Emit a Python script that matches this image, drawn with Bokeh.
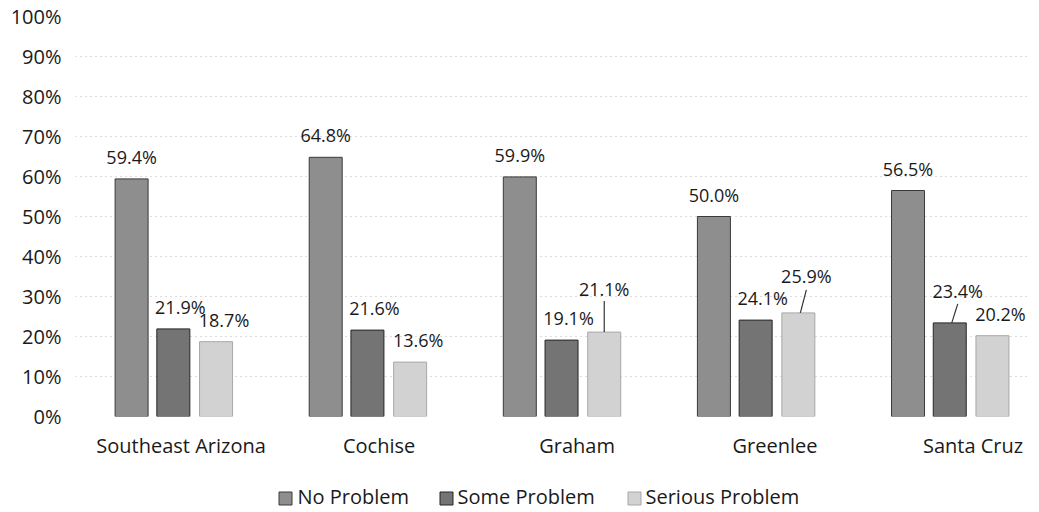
from bokeh.plotting import figure
from bokeh.models import ColumnDataSource, LabelSet, FixedTicker, Range1d
from bokeh.layouts import column
from bokeh.core.properties import value
from bokeh.embed import file_html
from bokeh.resources import INLINE

# ---- data ----
counties = ["Southeast Arizona", "Cochise", "Graham", "Greenlee", "Santa Cruz"]
series = ["No Problem", "Some Problem", "Serious Problem"]
no_problem = [59.4, 64.8, 59.9, 50.0, 56.5]
some_problem = [21.9, 21.6, 19.1, 24.1, 23.4]
serious_problem = [18.7, 13.6, 21.1, 25.9, 20.2]
y_ticks = [0, 10, 20, 30, 40, 50, 60, 70, 80, 90, 100]

# ---- style / layout ----
FONT = "Open Sans"
TEXT = "#1a1a1a"
fills = ["#8e8e8e", "#747474", "#d2d2d2"]
outlines = ["#3a3a3a", "#262626", "#a8a8a8"]
offsets = [-0.215, 0.0, 0.22]
BAR_W = 0.17
X0, X1 = -0.504, 4.416
W = 1030
BL, BR, BT, BB = 75, 0, 16, 54
FRAME_H = 400
H1 = BT + FRAME_H + BB
H2 = 40
frame_w = W - BL - BR
px_x = frame_w / (X1 - X0)      # pixels per x unit
px_y = FRAME_H / 100.0          # pixels per percent
LABEL_GAP = 22                  # px between bar top and label centre
series_dx = [0, 7, 8]           # label horizontal shift per series (px)
# label nudges (series index, county index) -> (dx px, extra dy px, leader gap px)
nudges = {
    (2, 2): (0, 21, 12),
    (2, 3): (8, 15, 14),
    (1, 4): (8, 10, 13),
}

p = figure(width=W, height=H1, output_backend="svg", toolbar_location=None,
           x_range=Range1d(X0, X1), y_range=Range1d(0, 100),
           min_border_left=BL, min_border_right=BR, min_border_top=BT,
           min_border_bottom=BB, outline_line_color=None)

values = [no_problem, some_problem, serious_problem]
for s, (name, vals) in enumerate(zip(series, values)):
    xs = [i + offsets[s] for i in range(len(counties))]
    src = ColumnDataSource(dict(x=xs, top=vals))
    p.vbar(x="x", top="top", width=BAR_W, source=src,
           fill_color=fills[s], line_color=outlines[s], line_width=1)

    lx, ly, lt, sx, sy, ex, ey = [], [], [], [], [], [], []
    for i, v in enumerate(vals):
        if (s, i) in nudges:
            dx, dy, gap = nudges[(s, i)]
        else:
            dx, dy, gap = series_dx[s], 0, None
        cx = xs[i] + dx / px_x
        cy = v + (LABEL_GAP + dy) / px_y
        lx.append(cx); ly.append(cy); lt.append(f"{v:.1f}%")
        if gap is not None:
            sx.append(xs[i] + min(dx, 2) / px_x); sy.append(v)
            ex.append(cx); ey.append(cy - gap / px_y)
    lsrc = ColumnDataSource(dict(x=lx, y=ly, t=lt))
    p.add_layout(LabelSet(x="x", y="y", text="t", source=lsrc,
                          text_align="center", text_baseline="middle",
                          text_font=value(FONT), text_font_size=value("18px"),
                          text_color=value(TEXT)))
    if sx:
        p.segment(x0=sx, y0=sy, x1=ex, y1=ey, line_color="#333333", line_width=1.2)

# axes
tick_pos = [i + 0.04 + 0.02 * i for i in range(len(counties))]
p.yaxis.ticker = FixedTicker(ticks=y_ticks)
p.yaxis.major_label_overrides = {t: f"{t}%" for t in y_ticks}
p.xaxis.ticker = FixedTicker(ticks=tick_pos)
p.xaxis.major_label_overrides = {t: c for t, c in zip(tick_pos, counties)}
for ax in (p.xaxis, p.yaxis):
    ax.axis_line_color = None
    ax.major_tick_line_color = None
    ax.minor_tick_line_color = None
    ax.major_tick_out = 0
    ax.major_tick_in = 0
    ax.major_label_text_font = FONT
    ax.major_label_text_font_size = "20px"
    ax.major_label_text_color = TEXT
p.yaxis.major_label_standoff = 14
p.xaxis.major_label_standoff = 15

p.xgrid.grid_line_color = None
p.ygrid.ticker = FixedTicker(ticks=y_ticks)
p.ygrid.grid_line_color = "#a0a0a0"
p.ygrid.grid_line_dash = "1 4"
p.ygrid.grid_line_alpha = 0.75

# ---- legend strip (own small figure; page-pixel layout converted to data) ----
LEG_MARK_PX = [285, 446, 634]
LEG_TEXT_PX = [297, 457, 645]
LEG_MARK_Y = 12
LEG_TEXT_Y = 14
to_x = lambda px: X0 + (px - BL) / px_x
leg = figure(width=W, height=H2, output_backend="svg", toolbar_location=None,
             x_range=Range1d(X0, X1), y_range=Range1d(0, H2),
             x_axis_type=None, y_axis_type=None,
             min_border_left=BL, min_border_right=BR, min_border_top=0,
             min_border_bottom=0, outline_line_color=None)
leg.scatter(x=[to_x(v) for v in LEG_MARK_PX], y=[LEG_MARK_Y] * 3, marker="square",
            size=13, fill_color=fills, line_color=outlines, line_width=1)
leg.text(x=[to_x(v) for v in LEG_TEXT_PX], y=[LEG_TEXT_Y] * 3, text=series,
         text_font=value(FONT), text_font_size=value("20px"),
         text_color=value(TEXT), text_baseline="middle", text_align="left")

layout = column(p, leg, spacing=0)
open("out.html", "w").write(file_html(layout, INLINE))
